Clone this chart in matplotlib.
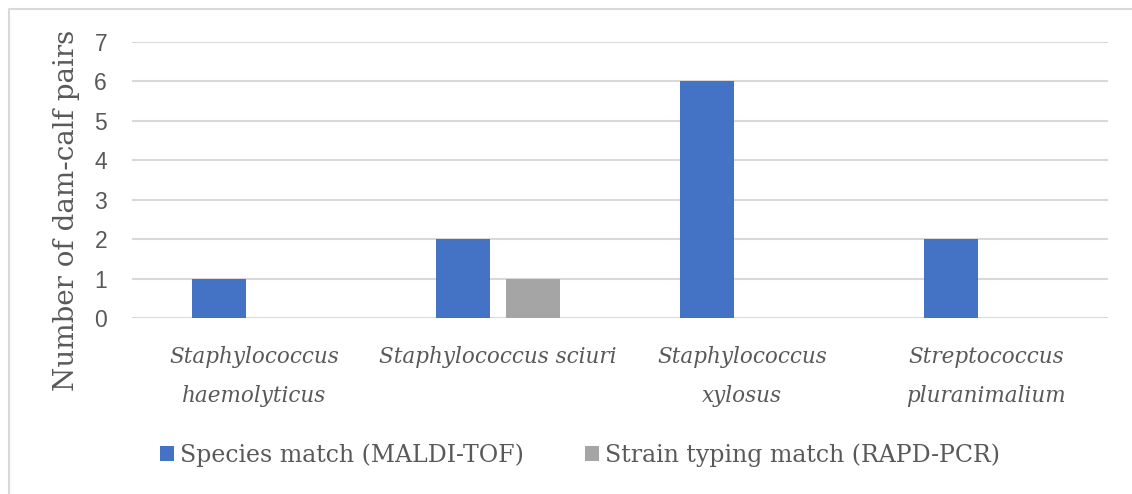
import matplotlib.pyplot as plt
from matplotlib.lines import Line2D
import numpy as np

categories = ["Staphylococcus\nhaemolyticus", "Staphylococcus sciuri",
              "Staphylococcus\nxylosus", "Streptococcus\npluranimalium"]
species_match = [1, 2, 6, 2]
strain_match = [0, 1, 0, 0]
y_ticks = [0, 1, 2, 3, 4, 5, 6, 7]

blue = "#4472C4"
grey = "#A5A5A5"
text_col = "#595959"
grid_col = "#D9D9D9"

fig = plt.figure(figsize=(11.32, 4.94), dpi=100)
# light frame (left and top edges only visible in the crop)
fx = 8.5 / 1132
fy = 1 - 9.5 / 494
fig.lines.append(Line2D([fx, fx, 1.0], [0.0, fy, fy], transform=fig.transFigure,
                        color=grid_col, linewidth=1.5))

ax = fig.add_axes([132 / 1132, 1 - 318 / 494, 976 / 1132, 276 / 494])
x = np.arange(len(categories))
w = 0.221
off = 0.143
ax.bar(x - off, species_match, w, color=blue, label="Species match (MALDI-TOF)", zorder=3)
ax.bar(x + off, strain_match, w, color=grey, label="Strain typing match (RAPD-PCR)", zorder=3)

ax.set_xlim(-0.5, len(categories) - 0.5)
ax.set_ylim(0, 7)
ax.set_yticks(y_ticks)
ax.yaxis.grid(True, color=grid_col, linewidth=1.5, zorder=0)
for s in ax.spines.values():
    s.set_visible(False)
ax.tick_params(axis='both', length=0)
ax.tick_params(axis='y', labelsize=16.5, labelcolor=text_col, pad=18)
for lab in ax.get_yticklabels():
    lab.set_fontfamily("Liberation Sans")

ax.set_xticks(x)
ax.set_xticklabels([])
for xi, c in zip(x, categories):
    ax.text(xi, -0.72, c, ha='center', va='top', fontsize=15.5, style='italic',
            family='DejaVu Serif', color=text_col, linespacing=1.95,
            transform=ax.transData)

fig.text(67 / 1132, 1 - 210 / 494, "Number of dam-calf pairs", rotation=90,
         ha='center', va='center', fontsize=20, family='DejaVu Serif', color=text_col)

leg = fig.legend(loc='center', bbox_to_anchor=(580 / 1132, 1 - 455 / 494), ncol=2, frameon=False,
                 prop={'family': 'DejaVu Serif', 'size': 17}, handlelength=0.6,
                 handleheight=0.6, handletextpad=0.25, columnspacing=2.6)
for t in leg.get_texts():
    t.set_color(text_col)

plt.savefig('out.png', dpi=100)
